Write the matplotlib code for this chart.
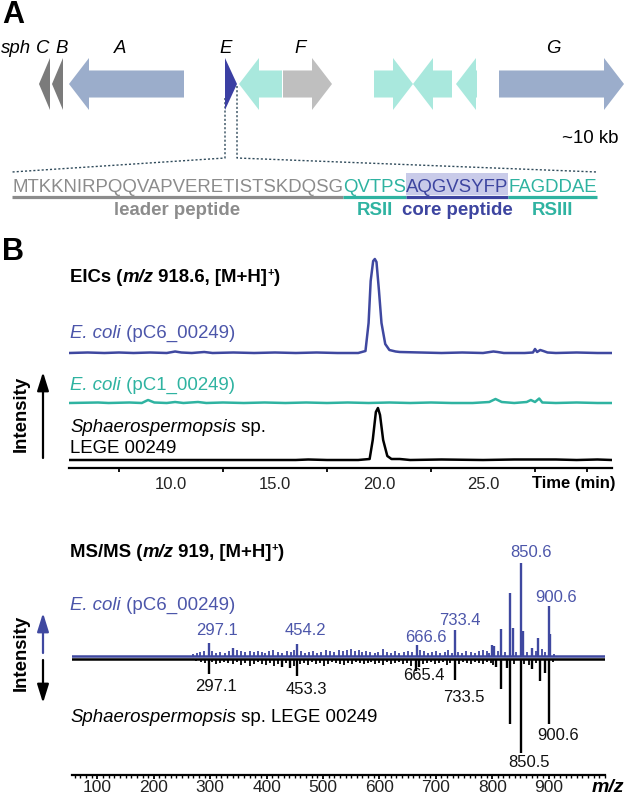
import numpy as np
import matplotlib.pyplot as plt
from matplotlib.patches import Polygon, Rectangle
from matplotlib.ticker import FixedLocator, MultipleLocator

plt.rcParams['font.family'] = ['Liberation Sans', 'DejaVu Sans']

# ---------------- data ----------------
# gene cluster (kb)
gene_start = [1.95, 2.6, 3.45, 11.25, 11.95, 14.15, 18.7, 20.65, 22.8, 24.95]
gene_end = [2.5, 3.15, 9.2, 11.85, 14.1, 16.6, 20.65, 22.6, 23.85, 31.2]
gene_strand = [-1, -1, -1, 1, -1, 1, 1, -1, -1, 1]
gene_group = ['small', 'small', 'large', 'precursor', 'other', 'hypo',
              'other', 'other', 'other', 'large']
gene_labels = ['sph', 'C', 'B', 'A', 'E', 'F', 'G']
gene_label_kb = [0.8, 2.15, 3.1, 6.0, 11.3, 15.0, 27.65]
precursor_idx = 3

# precursor peptide
seq_parts = ['MTKKNIRPQQVAPVERETISTSKDQSG', 'QVTPS', 'AQGVSYFP', 'FAGDDAE']
seq_roles = ['leader', 'rs', 'core', 'rs']
region_names = ['leader peptide', 'RSII', 'core peptide', 'RSIII']

# EICs (time in min, intensity in arbitrary units)
eic_c6_t = [5.1, 6.0, 6.8, 7.5, 8.2, 9.0, 9.8, 10.2, 10.5, 11.0, 11.6, 12.0, 13.0,
            14.0, 15.0, 16.0, 17.0, 18.0, 19.0, 19.35, 19.5, 19.6, 19.72, 19.8,
            19.88, 20.0, 20.12, 20.3, 20.5, 20.8, 21.0, 22.0, 23.0, 24.0, 25.0,
            25.5, 25.7, 26.0, 27.0, 27.4, 27.5, 27.6, 27.75, 27.9, 28.1, 28.5,
            29.5, 30.5, 31.2]
eic_c6_i = [0, 0.5, 0, 0.5, 0, 0.5, 0, 1.5, 0.5, 0, 1, 0, 0.5, 0, 0.5, 0, 0.5, 0,
            0, 2, 30, 72, 92, 94, 91, 62, 30, 9, 3, 1.5, 1, 0.5, 0, 0.5, 0, 1.5, 1,
            0, 0, 0.5, 4, 1, 3, 2, 0.5, 0, 0.5, 0, 0]
eic_c1_t = [5.1, 6.5, 7.0, 8.0, 8.6, 8.9, 9.2, 9.8, 10.2, 10.6, 11.3, 11.7, 12.5,
            13.5, 14.5, 15.5, 16.5, 17.5, 18.5, 19.5, 20.5, 21.5, 22.5, 23.5,
            24.5, 25.3, 25.6, 25.9, 26.5, 27.1, 27.3, 27.5, 27.7, 27.85, 28.5,
            29.5, 30.5, 31.2]
eic_c1_i = [0, 0.5, 0, 0.5, 0, 3, 0.5, 0, 1, 0, 1, 0, 0.5, 0, 0.5, 0, 0.5, 0, 0.5,
            0, 0.5, 0, 0.5, 0, 0, 1, 4, 1, 0, 1, 3, 1, 4.5, 0.5, 0, 0.5, 0, 0]
eic_wt_t = [5.1, 8.0, 12.0, 16.0, 16.6, 17.5, 19.0, 19.55, 19.7, 19.85, 19.95,
            20.05, 20.2, 20.4, 20.6, 21.0, 21.5, 23.0, 25.0, 26.5, 27.5, 28.5,
            29.5, 30.5, 31.2]
eic_wt_i = [0, 0, 0, 0, 0.5, 0, 0, 1, 20, 48, 52, 45, 20, 4, 1, 1, 0, 0.5, 0, 0.5,
            0.5, 0.5, 0, 0.5, 0]

# MS/MS spectra (m/z, intensity)
ms_c6_mz = [297.1, 341, 454.2, 606, 666.6, 733.4, 799, 803, 815, 831, 836, 850.6,
            854, 871, 882, 889, 900.6, 903,
            270, 276, 282, 289, 304, 310, 318, 326, 333, 348, 355, 362, 370, 378,
            385, 392, 398, 405, 412, 420, 428, 436, 443, 448, 461, 468, 475, 482,
            490, 497, 505, 512, 520, 528, 535, 542, 549, 556, 563, 570, 577, 584,
            592, 598, 613, 620, 628, 635, 643, 650, 657, 672, 679, 686, 694, 701,
            708, 716, 722, 728, 740, 747, 754, 762, 769, 776, 783, 790, 795, 810,
            822, 843, 862, 877, 894, 910]
ms_c6_int = [13, 8, 12, 7, 11, 26, 11, 10, 27, 63, 28, 93, 25, 8, 18, 7, 50, 22,
             2, 3, 4, 5, 5, 3, 4, 3, 5, 6, 5, 4, 5, 4, 5, 4, 3, 5, 6, 4, 3, 5, 4, 6,
             5, 3, 4, 5, 3, 4, 6, 5, 4, 6, 5, 6, 7, 5, 6, 4, 5, 4, 3, 4, 4, 3, 5, 3,
             4, 5, 4, 6, 5, 3, 4, 5, 3, 4, 6, 3, 4, 3, 5, 4, 3, 5, 6, 5, 3, 5, 4, 4,
             4, 5, 4, 2]
ms_wt_mz = [297.1, 453.3, 665.4, 670, 733.5, 806, 815, 826, 831, 850.5, 865, 871,
            884, 893, 900.6,
            275, 283, 290, 304, 311, 318, 325, 332, 340, 347, 355, 362, 370, 378,
            385, 392, 399, 406, 413, 420, 427, 434, 441, 448, 460, 467, 474, 481,
            488, 495, 502, 509, 516, 523, 530, 537, 544, 551, 558, 565, 572, 579,
            586, 593, 600, 607, 614, 621, 628, 635, 642, 649, 656, 677, 684, 691,
            698, 705, 712, 719, 726, 741, 748, 755, 762, 769, 776, 783, 790, 797,
            802, 838, 857, 878, 908]
ms_wt_int = [15, 17, 12, 8, 21, 8, 30, 9, 65, 94, 6, 10, 22, 14, 65,
             2, 3, 4, 3, 5, 4, 3, 4, 5, 3, 6, 4, 7, 5, 3, 5, 6, 4, 7, 5, 8, 4, 9,
             7, 5, 4, 6, 3, 5, 4, 7, 5, 3, 4, 5, 6, 4, 5, 3, 4, 5, 4, 3, 5, 4, 6,
             3, 5, 4, 3, 5, 4, 7, 5, 4, 3, 5, 4, 3, 6, 4, 5, 3, 4, 5, 3, 4, 5, 3, 4,
             6, 5, 5, 4, 3]
c6_labels = [297.1, 454.2, 666.6, 733.4, 850.6, 900.6]
wt_labels = [297.1, 453.3, 665.4, 733.5, 850.5, 900.6]

# ---------------- style ----------------
FS = 13.4
BLUE = '#3f48a0'
BLUE_T = '#4c56aa'
TEAL = '#2fb3a1'
GREY_T = '#8c8c8c'
gene_colors = {'small': '#7b7b7b', 'large': '#9badcb', 'precursor': '#3b3fa3',
               'other': '#a9e8dd', 'hypo': '#bfbfbf'}
role_colors = {'leader': GREY_T, 'rs': TEAL, 'core': '#3d45a0'}

W, H = 625, 797
fig = plt.figure(figsize=(W / 100, H / 100), dpi=100)


def px_axes(x0, x1, y0, y1):
    # axes from pixel box (y measured from the top)
    return fig.add_axes([x0 / W, 1 - y1 / H, (x1 - x0) / W, (y1 - y0) / H])


ov = fig.add_axes([0, 0, 1, 1], zorder=0)
ov.set_xlim(0, W)
ov.set_ylim(H, 0)
ov.axis('off')
renderer = fig.canvas.get_renderer()


def text_width(s, **kw):
    kw = {k: v for k, v in kw.items() if k != 'dy'}
    t = ov.text(0, 0, s + '|', **kw)
    w1 = t.get_window_extent(renderer).width
    t.remove()
    t = ov.text(0, 0, '|', **kw)
    w2 = t.get_window_extent(renderer).width
    t.remove()
    return w1 - w2


def runs(x, y, parts, ha='left'):
    widths = [text_width(s, **kw) for s, kw in parts]
    if ha == 'center':
        x -= sum(widths) / 2
    spans = []
    for (s, kw), w in zip(parts, widths):
        kw = dict(kw)
        dy = kw.pop('dy', 0)
        ov.text(x, y - dy, s, va='baseline', ha='left', **kw)
        spans.append((x, x + w))
        x += w
    return spans


B = dict(fontsize=FS, fontweight='bold')
SUP = dict(fontsize=8, fontweight='bold', dy=6)

# ---------------- panel A ----------------
ov.text(2, 23, 'A', fontsize=22, fontweight='bold', va='baseline')
ov.text(2, 260, 'B', fontsize=22, fontweight='bold', va='baseline')

axG = px_axes(0, W, 58, 110)
axG.set_xlim(0, W / 20)
axG.set_ylim(-1, 1)
axG.axis('off')
body, head = 0.52, 1.0
for s, e, d, g in zip(gene_start, gene_end, gene_strand, gene_group):
    L = e - s
    hl = min(head, L)
    if hl >= L:
        pts = [(0, -1), (L, 0), (0, 1)]
    else:
        pts = [(0, -body), (L - hl, -body), (L - hl, -1), (L, 0),
               (L - hl, 1), (L - hl, body), (0, body)]
    if d > 0:
        pts = [(s + a, b) for a, b in pts]
    else:
        pts = [(e - a, b) for a, b in pts]
    axG.add_patch(Polygon(pts, closed=True, facecolor=gene_colors[g],
                          edgecolor='none'))

def kb_to_px(kb):
    xd = axG.transData.transform((kb, 0))[0]
    return ov.transData.inverted().transform((xd, 0))[0]

for lab, kb in zip(gene_labels, gene_label_kb):
    ov.text(kb_to_px(kb), 53, lab, fontsize=FS, style='italic',
            ha='center', va='baseline')
ov.text(619, 143, '~10 kb', fontsize=FS, ha='right', va='baseline')

# precursor sequence
seq_spans = runs(12, 192, [(p, dict(fontsize=FS, color=role_colors[r]))
                           for p, r in zip(seq_parts, seq_roles)])
for (x0, x1), r in zip(seq_spans, seq_roles):
    if r == 'core':
        ov.add_patch(Rectangle((x0, 173), x1 - x0, 22, facecolor='#c9cbe9',
                               edgecolor='none', zorder=-1))
    ov.plot([x0, x1], [196.5, 196.5], color=role_colors[r], lw=2.3,
            solid_capstyle='butt')
for (x0, x1), r, nm in zip(seq_spans, seq_roles, region_names):
    ov.text((x0 + x1) / 2, 215, nm, color=role_colors[r], ha='center',
            va='baseline', **B)

# dotted zoom lines from precursor gene
ex0 = kb_to_px(gene_start[precursor_idx])
ex1 = kb_to_px(gene_end[precursor_idx])
dot = dict(color='#2f4a5a', lw=1.0, linestyle=(0, (1.5, 1.5)))
ov.plot([ex0, ex0, seq_spans[0][0]], [98, 158, 172], **dot)
ov.plot([ex1, ex1, seq_spans[-1][1]], [86, 158, 172], **dot)

# ---------------- EICs ----------------
runs(70, 282, [('EICs (', B), ('m/z', dict(B, style='italic')),
               (' 918.6, [M+H]', B), ('+', SUP), (')', B)])
axE = px_axes(69, 612, 250, 468)
axE.set_facecolor('none')
axE.set_xlim(5.1, 31.2)
axE.set_ylim(-8, 210)
axE.plot(eic_c6_t, np.array(eic_c6_i) + 107, color=BLUE, lw=1.8)
axE.plot(eic_c1_t, np.array(eic_c1_i) + 57, color=TEAL, lw=1.8)
axE.plot(eic_wt_t, eic_wt_i, color='black', lw=1.8)
for sp in ['top', 'right', 'left']:
    axE.spines[sp].set_visible(False)
axE.spines['bottom'].set_linewidth(1.6)
axE.set_yticks([])
axE.xaxis.set_major_locator(FixedLocator([10, 15, 20, 25]))
axE.xaxis.set_minor_locator(FixedLocator([7.5, 12.5, 17.5, 22.5, 27.5, 30]))
axE.set_xticklabels(['10.0', '15.0', '20.0', '25.0'])
axE.tick_params(axis='x', which='major', length=0, pad=6.5, labelsize=12,
                labelcolor='#222222')
axE.tick_params(axis='x', which='minor', length=3, width=1.3, direction='out')
ov.text(615, 488, 'Time (min)', ha='right', va='baseline', fontsize=12,
        fontweight='bold')

lab_c6 = [('E. coli', dict(fontsize=FS, style='italic', color=BLUE_T)),
          (' (pC6_00249)', dict(fontsize=FS, color=BLUE_T))]
runs(70, 338, lab_c6)
runs(70, 390, [('E. coli', dict(fontsize=FS, style='italic', color=TEAL)),
               (' (pC1_00249)', dict(fontsize=FS, color=TEAL))])
runs(70, 432, [('Sphaerospermopsis', dict(fontsize=FS, style='italic')),
               (' sp.', dict(fontsize=FS))])
ov.text(70, 453, 'LEGE 00249', fontsize=FS, va='baseline')

arrow = '-|>,head_length=0.8,head_width=0.25'
ov.text(21, 414, 'Intensity', rotation=90, ha='center', va='center', **B)
ov.annotate('', xy=(43, 372), xytext=(43, 458),
            arrowprops=dict(arrowstyle=arrow, lw=1.6, color='black',
                            mutation_scale=14, shrinkA=0, shrinkB=0))

# ---------------- MS/MS ----------------
runs(70, 557, [('MS/MS (', B), ('m/z', dict(B, style='italic')),
               (' 919, [M+H]', B), ('+', SUP), (')', B)])
axM = px_axes(72, 605, 540, 775)
axM.set_facecolor('none')
axM.set_xlim(55, 1000)
axM.set_ylim(-118, 117)
axM.axhline(-1.5, color='black', lw=1.8, zorder=2)
axM.axhline(1.5, color=BLUE, lw=1.8, zorder=3)
c6_w = [1.7 if i >= 8 else 1.3 for i in ms_c6_int]
wt_w = [1.7 if i >= 8 else 1.3 for i in ms_wt_int]
axM.vlines(ms_c6_mz, 1.5, 1.5 + np.array(ms_c6_int), color=BLUE, lw=c6_w,
           zorder=3)
axM.vlines(ms_wt_mz, -1.5, -1.5 - np.array(ms_wt_int), color='black', lw=wt_w,
           zorder=2)
for sp in ['top', 'right', 'left']:
    axM.spines[sp].set_visible(False)
axM.spines['bottom'].set_linewidth(1.6)
axM.set_yticks([])
axM.xaxis.set_major_locator(FixedLocator(list(range(100, 1000, 100))))
axM.xaxis.set_minor_locator(MultipleLocator(10))
axM.tick_params(axis='x', which='major', length=3, width=1.3, pad=0.5,
                labelsize=12.5, labelcolor='#222222')
axM.tick_params(axis='x', which='minor', length=1.8, width=1.0)
ov.text(624, 792, 'm/z', ha='right', va='baseline', fontsize=14,
        fontweight='bold', style='italic')

# peak labels (pixel positions of the label centres / baselines)
c6_lab_x = [217, 305, 426, 460, 531, 556]
c6_lab_y = [635, 635, 642, 625, 557, 602]
wt_lab_x = [216, 306, 424, 464, 529, 558]
wt_lab_y = [691, 694, 680, 702, 767, 740]
for v, x, y in zip(c6_labels, c6_lab_x, c6_lab_y):
    ov.text(x, y, f'{v:.1f}', fontsize=12, color=BLUE_T, ha='center',
            va='baseline')
for v, x, y in zip(wt_labels, wt_lab_x, wt_lab_y):
    ov.text(x, y, f'{v:.1f}', fontsize=12, color='#111111', ha='center',
            va='baseline')

runs(70, 610, lab_c6)
runs(70, 722, [('Sphaerospermopsis', dict(fontsize=FS, style='italic')),
               (' sp. LEGE 00249', dict(fontsize=FS))])
ov.text(21, 653, 'Intensity', rotation=90, ha='center', va='center', **B)
ov.annotate('', xy=(43, 613), xytext=(43, 653),
            arrowprops=dict(arrowstyle=arrow, lw=1.6, color=BLUE,
                            mutation_scale=14, shrinkA=0, shrinkB=0))
ov.annotate('', xy=(43, 703), xytext=(43, 660),
            arrowprops=dict(arrowstyle=arrow, lw=1.6, color='black',
                            mutation_scale=14, shrinkA=0, shrinkB=0))

fig.savefig('out.png', dpi=100)
